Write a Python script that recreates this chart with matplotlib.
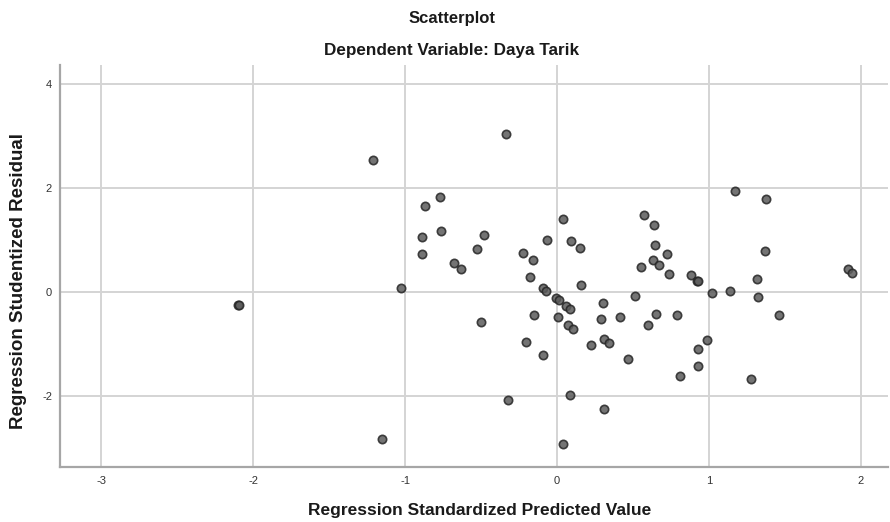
import numpy as np
from matplotlib import pyplot as plt

plt.rcParams['font.family'] = ['Liberation Sans', 'DejaVu Sans']
plt.rcParams['axes.unicode_minus'] = False

# Regression standardized predicted value (x) and studentized residual (y)
pred = [-2.099, -2.096, -1.213, -1.154, -1.024, -0.886, -0.886, -0.866, -0.769, -0.763,
        -0.677, -0.629, -0.527, -0.497, -0.481, -0.334, -0.323, -0.222, -0.202, -0.178,
        -0.156, -0.148, -0.092, -0.090, -0.069, -0.066, -0.007, 0.004, 0.015, 0.037,
        0.037, 0.057, 0.074, 0.086, 0.086, 0.090, 0.107, 0.149, 0.158, 0.224,
        0.288, 0.301, 0.310, 0.312, 0.343, 0.413, 0.466, 0.512, 0.551, 0.573,
        0.600, 0.635, 0.641, 0.646, 0.650, 0.670, 0.722, 0.740, 0.793, 0.808,
        0.885, 0.925, 0.928, 0.927, 0.927, 0.991, 1.024, 1.142, 1.175, 1.279,
        1.318, 1.322, 1.367, 1.375, 1.461, 1.914, 1.940]
resid = [-0.238, -0.245, 2.55, -2.835, 0.083, 1.063, 0.742, 1.665, 1.83, 1.185,
         0.569, 0.448, 0.833, -0.571, 1.108, 3.05, -2.07, 0.756, -0.95, 0.294,
         0.615, -0.437, -1.219, 0.083, 0.031, 1.012, -0.11, -0.47, -0.16, 1.41,
         -2.917, -0.27, -0.635, -0.33, -1.98, 0.98, -0.718, 0.852, 0.14, -1.013,
         -0.513, -0.212, -2.244, -0.904, -0.975, -0.488, -1.296, -0.077, 0.487, 1.48,
         -0.623, 0.615, 1.288, 0.91, -0.43, 0.525, 0.73, 0.346, -0.443, -1.61,
         0.327, 0.223, 0.213, -1.09, -1.423, -0.93, -0.013, 0.025, 1.954, -1.674,
         0.25, -0.096, 0.788, 1.788, -0.437, 0.442, 0.377]

xticks = [-3, -2, -1, 0, 1, 2]
yticks = [-2, 0, 2, 4]

fig = plt.figure(figsize=(8.9, 5.22), dpi=100)
ax = fig.add_axes([0.0678, 0.1048, 0.930, 0.7707])

ax.scatter(pred, resid, s=36, facecolor='#5c5c5c', edgecolor='#262626',
           linewidth=1.2, alpha=0.85, zorder=3)

ax.set_xlim(-3.27, 2.18)
ax.set_ylim(-3.37, 4.37)
ax.set_xticks(xticks)
ax.set_yticks(yticks)
ax.grid(True, color='#d4d4d4', linewidth=1.4, zorder=0)
ax.set_axisbelow(True)
ax.tick_params(length=0, labelsize=8, colors='#333333', pad=6)

for s in ['top', 'right']:
    ax.spines[s].set_visible(False)
for s in ['left', 'bottom']:
    ax.spines[s].set_color('#a6a6a6')
    ax.spines[s].set_linewidth(1.6)

fig.text(452 / 890, 1 - 18 / 522, 'Scatterplot', ha='center', va='center',
         fontsize=12, fontweight='bold', color='#1a1a1a')
fig.text(452 / 890, 1 - 51 / 522, 'Dependent Variable: Daya Tarik', ha='center',
         va='center', fontsize=12.3, fontweight='bold', color='#1a1a1a')
fig.text(480 / 890, 1 - 510 / 522, 'Regression Standardized Predicted Value',
         ha='center', va='center', fontsize=12.5, fontweight='bold', color='#1a1a1a')
fig.text(19 / 890, 1 - 281 / 522, 'Regression Studentized Residual', ha='center',
         va='center', rotation=90, fontsize=13.5, fontweight='bold', color='#1a1a1a')

plt.savefig('out.png', dpi=100)
